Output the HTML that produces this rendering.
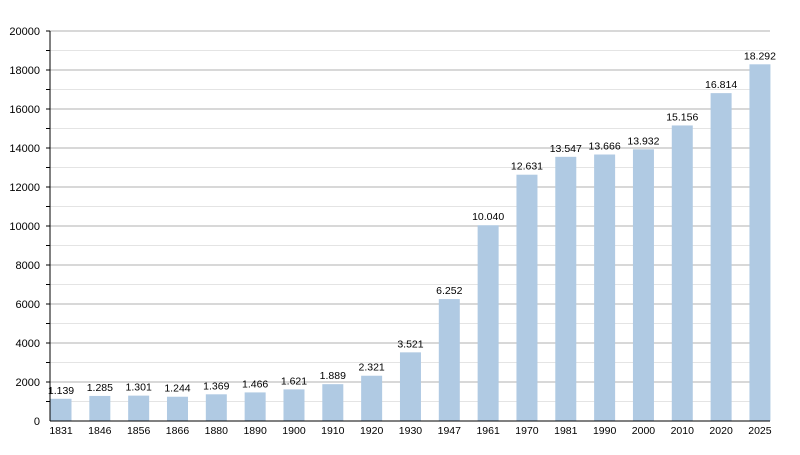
<!DOCTYPE html><html><head><style>body{margin:0;background:#fff}</style></head><body>
<svg width="800" height="450" xmlns="http://www.w3.org/2000/svg" font-family="Liberation Sans, sans-serif" font-size="11">
<g stroke="#e4e4e4">
<line x1="50" x2="770" y1="401.5" y2="401.5"/><line x1="50" x2="770" y1="362.5" y2="362.5"/><line x1="50" x2="770" y1="323.5" y2="323.5"/><line x1="50" x2="770" y1="284.5" y2="284.5"/><line x1="50" x2="770" y1="245.5" y2="245.5"/><line x1="50" x2="770" y1="206.5" y2="206.5"/><line x1="50" x2="770" y1="167.5" y2="167.5"/><line x1="50" x2="770" y1="128.5" y2="128.5"/><line x1="50" x2="770" y1="89.5" y2="89.5"/><line x1="50" x2="770" y1="50.5" y2="50.5"/>
</g>
<g stroke="#b0b0b0">
<line x1="50" x2="770" y1="382" y2="382"/><line x1="50" x2="770" y1="343" y2="343"/><line x1="50" x2="770" y1="304" y2="304"/><line x1="50" x2="770" y1="265" y2="265"/><line x1="50" x2="770" y1="226" y2="226"/><line x1="50" x2="770" y1="187" y2="187"/><line x1="50" x2="770" y1="148" y2="148"/><line x1="50" x2="770" y1="109" y2="109"/><line x1="50" x2="770" y1="70" y2="70"/><line x1="50" x2="770" y1="31" y2="31"/>
</g>
<g stroke="#000">
<line x1="46" x2="50" y1="401.5" y2="401.5"/><line x1="46" x2="50" y1="382" y2="382"/><line x1="46" x2="50" y1="362.5" y2="362.5"/><line x1="46" x2="50" y1="343" y2="343"/><line x1="46" x2="50" y1="323.5" y2="323.5"/><line x1="46" x2="50" y1="304" y2="304"/><line x1="46" x2="50" y1="284.5" y2="284.5"/><line x1="46" x2="50" y1="265" y2="265"/><line x1="46" x2="50" y1="245.5" y2="245.5"/><line x1="46" x2="50" y1="226" y2="226"/><line x1="46" x2="50" y1="206.5" y2="206.5"/><line x1="46" x2="50" y1="187" y2="187"/><line x1="46" x2="50" y1="167.5" y2="167.5"/><line x1="46" x2="50" y1="148" y2="148"/><line x1="46" x2="50" y1="128.5" y2="128.5"/><line x1="46" x2="50" y1="109" y2="109"/><line x1="46" x2="50" y1="89.5" y2="89.5"/><line x1="46" x2="50" y1="70" y2="70"/><line x1="46" x2="50" y1="50.5" y2="50.5"/><line x1="46" x2="50" y1="31" y2="31"/>
</g>
<g text-anchor="end">
<text x="40" y="425">0</text><text x="40" y="386">2000</text><text x="40" y="347">4000</text><text x="40" y="308">6000</text><text x="40" y="269">8000</text><text x="40" y="230">10000</text><text x="40" y="191">12000</text><text x="40" y="152">14000</text><text x="40" y="113">16000</text><text x="40" y="74">18000</text><text x="40" y="35">20000</text>
</g>
<g fill="#b0cae3">
<rect x="50.5" y="398.79" width="21" height="22.21"/>
<rect x="89.33" y="395.94" width="21" height="25.06"/>
<rect x="128.16" y="395.63" width="21" height="25.37"/>
<rect x="166.99" y="396.74" width="21" height="24.26"/>
<rect x="205.82" y="394.3" width="21" height="26.7"/>
<rect x="244.65" y="392.41" width="21" height="28.59"/>
<rect x="283.48" y="389.39" width="21" height="31.61"/>
<rect x="322.31" y="384.16" width="21" height="36.84"/>
<rect x="361.14" y="375.74" width="21" height="45.26"/>
<rect x="399.97" y="352.34" width="21" height="68.66"/>
<rect x="438.8" y="299.09" width="21" height="121.91"/>
<rect x="477.63" y="225.22" width="21" height="195.78"/>
<rect x="516.46" y="174.7" width="21" height="246.3"/>
<rect x="555.29" y="156.83" width="21" height="264.17"/>
<rect x="594.12" y="154.51" width="21" height="266.49"/>
<rect x="632.95" y="149.33" width="21" height="271.67"/>
<rect x="671.78" y="125.46" width="21" height="295.54"/>
<rect x="710.61" y="93.13" width="21" height="327.87"/>
<rect x="749.44" y="64.31" width="21" height="356.69"/>
</g>
<g text-anchor="middle" font-size="10.5">
<text x="61" y="393.8">1.139</text><text x="99.83" y="390.9">1.285</text><text x="138.66" y="390.6">1.301</text><text x="177.49" y="391.7">1.244</text><text x="216.32" y="389.3">1.369</text><text x="255.15" y="387.4">1.466</text><text x="293.98" y="384.4">1.621</text><text x="332.81" y="379.2">1.889</text><text x="371.64" y="370.7">2.321</text><text x="410.47" y="347.3">3.521</text><text x="449.3" y="294.1">6.252</text><text x="488.13" y="220.2">10.040</text><text x="526.96" y="169.7">12.631</text><text x="565.79" y="151.8">13.547</text><text x="604.62" y="149.5">13.666</text><text x="643.45" y="144.3">13.932</text><text x="682.28" y="120.5">15.156</text><text x="721.11" y="88.1">16.814</text><text x="759.94" y="59.3">18.292</text>
<text x="61" y="434">1831</text><text x="99.83" y="434">1846</text><text x="138.66" y="434">1856</text><text x="177.49" y="434">1866</text><text x="216.32" y="434">1880</text><text x="255.15" y="434">1890</text><text x="293.98" y="434">1900</text><text x="332.81" y="434">1910</text><text x="371.64" y="434">1920</text><text x="410.47" y="434">1930</text><text x="449.3" y="434">1947</text><text x="488.13" y="434">1961</text><text x="526.96" y="434">1970</text><text x="565.79" y="434">1981</text><text x="604.62" y="434">1990</text><text x="643.45" y="434">2000</text><text x="682.28" y="434">2010</text><text x="721.11" y="434">2020</text><text x="759.94" y="434">2025</text>
</g>
<line x1="50" x2="50" y1="31" y2="421" stroke="#000"/><line x1="50" x2="770" y1="421" y2="421" stroke="#000"/>
</svg></body></html>
